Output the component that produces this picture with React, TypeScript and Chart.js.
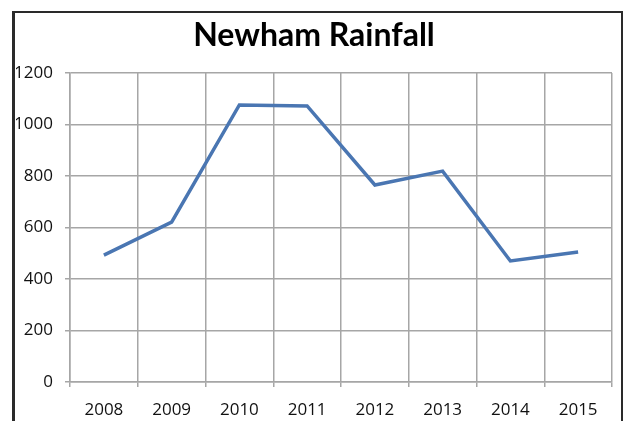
import React, { useEffect, useRef } from "react";
import { Chart, registerables } from "chart.js";

Chart.register(...registerables);

const years = ["2008", "2009", "2010", "2011", "2012", "2013", "2014", "2015"];
const rainfall = [493, 621, 1076, 1072, 765, 819, 470, 505];
const titleText = "Newham Rainfall";

export default function App() {
  const ref = useRef<HTMLCanvasElement | null>(null);

  useEffect(() => {
    document.body.style.margin = "0";
    document.body.style.overflow = "hidden";
    const ctx = ref.current;
    if (!ctx) return;
    const chart = new Chart(ctx, {
      type: "line",
      data: {
        labels: years,
        datasets: [
          {
            data: rainfall,
            borderColor: "#4a76b2",
            borderWidth: 3.5,
            pointRadius: 0,
            tension: 0,
            fill: false,
          },
        ],
      },
      options: {
        responsive: false,
        animation: false,
        devicePixelRatio: 1,
        layout: { padding: { left: 16, right: 11, top: 0, bottom: 0 } },
        plugins: {
          legend: { display: false },
          tooltip: { enabled: false },
          title: {
            display: true,
            text: titleText,
            color: "#000",
            font: { family: "Lato", size: 32, weight: "bold", lineHeight: 1.2 },
            padding: { top: 16, bottom: 18.6 },
          },
        },
        scales: {
          x: {
            offset: true,
            grid: {
              offset: true,
              color: "#a6a6a6",
              lineWidth: 1.5,
              tickLength: 5,
              drawTicks: true,
            },
            border: { color: "#a6a6a6", width: 1.5 },
            ticks: {
              color: "#111",
              font: { family: "Open Sans", size: 17 },
              padding: 13,
              maxRotation: 0,
            },
            afterFit: (s: any) => {
              s.height = 39;
            },
          },
          y: {
            min: 0,
            max: 1200,
            grid: { color: "#a6a6a6", lineWidth: 1.5, tickLength: 5 },
            border: { color: "#a6a6a6", width: 1.5 },
            ticks: {
              stepSize: 200,
              color: "#111",
              font: { family: "Open Sans", size: 17 },
              padding: 12,
              callback: (v: any) => String(v),
            },
            afterFit: (s: any) => {
              s.width = 54;
            },
          },
        },
      },
    });
    return () => chart.destroy();
  }, []);

  return (
    <div style={{ position: "fixed", left: 0, top: 0, width: 623, height: 421, background: "#fff", overflow: "hidden" }}>
      <div
        style={{
          position: "absolute",
          left: 12,
          top: 11,
          width: 606,
          height: 430,
          borderLeft: "3px solid #2a2a2a",
          borderTop: "2px solid #2a2a2a",
          borderRight: "2px solid #2a2a2a",
        }}
      />
      <canvas ref={ref} width={623} height={421} style={{ position: "absolute", left: 0, top: 0 }} />
    </div>
  );
}
